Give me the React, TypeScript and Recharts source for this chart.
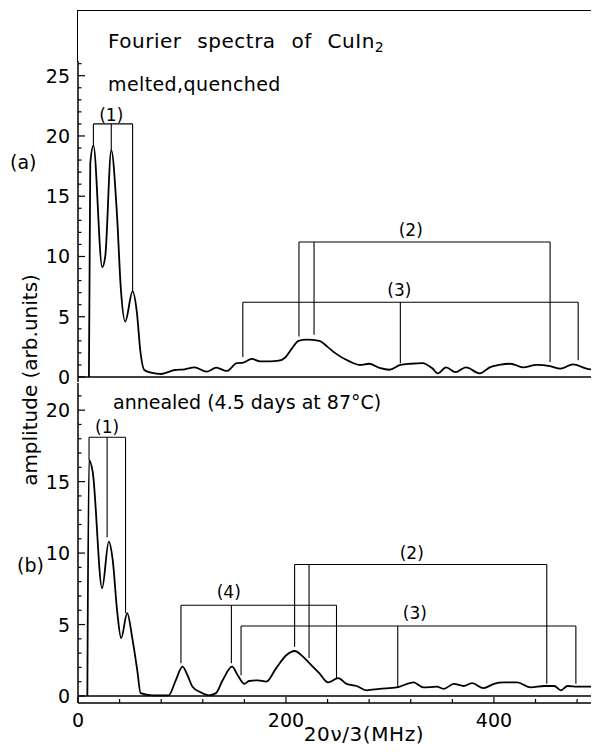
import React from 'react';
import { LineChart, Line, XAxis, YAxis, ReferenceLine, ReferenceDot } from 'recharts';

const FONT = '"DejaVu Sans", "Liberation Sans", sans-serif';

// Panel (a): melted, quenched
const freqA = [10.5, 11.8, 14.8, 23.3, 26.2, 32, 37.4, 41.3, 45.4, 52.5, 56.7, 59.9, 63.8, 70.5, 80, 93, 102.5, 112, 123.7, 133, 143, 152.7, 159, 167, 175, 185, 193, 199, 206, 212, 220, 232, 240, 247, 261, 271.5, 280, 290, 299.5, 310, 320, 331, 341, 346, 354, 363, 373, 386.5, 396, 405, 416, 428, 441, 454, 464, 476, 489, 502];
const ampA = [0, 17.7, 19.2, 9.1, 10, 18.8, 13.6, 7.2, 4.6, 7.1, 5.3, 2.2, 0.58, 0.36, 0.25, 0.58, 0.64, 0.8, 0.44, 0.77, 0.5, 1.15, 1.2, 1.5, 1.3, 1.3, 1.35, 1.6, 2.4, 3.0, 3.1, 3.0, 2.5, 2.0, 1.3, 1.0, 1.1, 0.75, 0.6, 1.0, 1.1, 1.15, 0.7, 0.3, 0.8, 0.4, 0.8, 0.3, 0.8, 1.0, 1.1, 0.8, 1.0, 0.9, 0.7, 1.05, 0.7, 0.55];

// Panel (b): annealed
const freqB = [9, 10.6, 14.1, 23.2, 29.6, 33.4, 37.7, 41.5, 47.3, 52.2, 57, 60.2, 71.5, 87.2, 94, 100.5, 105.3, 110.1, 118.2, 125.9, 132.7, 139.1, 148.1, 153.6, 160, 164.5, 173, 181, 190.6, 200.3, 208.3, 216.4, 222.5, 232, 240.6, 250.2, 258.3, 268, 277.6, 290, 306.6, 322.7, 332.4, 345, 351.7, 361.4, 371, 379, 390, 400, 409.7, 422.5, 435.4, 448.3, 458, 464.4, 470.8, 480.5, 502];
const ampB = [0, 16.5, 15.7, 7.55, 10.8, 9.5, 5.9, 4.05, 5.8, 4.05, 1.8, 0.2, 0.05, 0.05, 1.1, 2.05, 1.45, 0.65, 0.25, 0.05, 0.2, 1.1, 2.05, 1.45, 0.85, 1.05, 1.1, 1.0, 1.95, 2.85, 3.15, 2.75, 2.3, 1.6, 0.95, 1.25, 0.85, 0.7, 0.4, 0.5, 0.6, 0.95, 0.6, 0.65, 0.5, 0.85, 0.7, 0.9, 0.55, 0.85, 0.95, 0.95, 0.6, 0.7, 0.7, 0.4, 0.7, 0.65, 0.65];

// Axis ticks
const xTicks = [0, 40, 80, 120, 160, 200, 240, 280, 320, 360, 400, 440, 480];
const xLabelTicks = [0, 200, 400];
const xDomain: [number, number] = [0, 502];
const yTicksA = Array.from({ length: 27 }, (_, i) => i);
const yTicksB = Array.from({ length: 22 }, (_, i) => i);
const yDomainA: [number, number] = [-0.415, 26.22];
const yDomainB: [number, number] = [-0.49, 21.9];

type Bracket = { name: string; top: number; legs: number[]; ends: number[]; labelX: number; labelY: number };

const bracketsA: Bracket[] = [
  { name: '(1)', top: 21.0, legs: [14.8, 32, 52.5], ends: [19.2, 18.8, 7.1], labelX: 32, labelY: 21.75 },
  { name: '(2)', top: 11.2, legs: [212.5, 227, 454], ends: [3.35, 3.5, 1.25], labelX: 320, labelY: 12.2 },
  { name: '(3)', top: 6.2, legs: [158.5, 310, 481], ends: [1.65, 1.15, 1.4], labelX: 309, labelY: 7.2 },
];

const bracketsB: Bracket[] = [
  { name: '(1)', top: 18.1, legs: [10.6, 28, 45.7], ends: [16.5, 11.1, 5.8], labelX: 28, labelY: 18.8 },
  { name: '(4)', top: 6.35, legs: [99, 147.5, 248.6], ends: [2.3, 2.3, 1.25], labelX: 145, labelY: 7.3 },
  { name: '(2)', top: 9.2, legs: [208.3, 222.2, 450.8], ends: [3.45, 2.65, 0.85], labelX: 321, labelY: 10.0 },
  { name: '(3)', top: 4.9, legs: [156.8, 307.5, 478.8], ends: [1.45, 0.65, 0.85], labelX: 324, labelY: 5.8 },
];

const makeXTick = (dir: number, showLabel: boolean) => (props: any) => {
  const { x, y, payload } = props;
  const major = xLabelTicks.includes(payload.value);
  const len = major ? 6 : 4;
  return (
    <g>
      <line x1={x} x2={x} y1={y} y2={y - dir * len} stroke="#000" strokeWidth={1.2} />
      {showLabel && major && (
        <text x={x} y={y + 24} textAnchor="middle" fontSize={19} fontFamily={FONT} fill="#000">
          {payload.value}
        </text>
      )}
    </g>
  );
};

const leftYTick = (props: any) => {
  const { x, y, payload } = props;
  const major = payload.value % 5 === 0;
  return (
    <g>
      <line x1={x} x2={x + (major ? 7 : 3.5)} y1={y} y2={y} stroke="#000" strokeWidth={1.2} />
      {major && (
        <text x={x - 8} y={y + 7} textAnchor="end" fontSize={19} fontFamily={FONT} fill="#000">
          {payload.value}
        </text>
      )}
    </g>
  );
};

const rightYTick = (props: any) => {
  const { x, y, payload } = props;
  const major = payload.value % 5 === 0;
  return <line x1={x} x2={x - (major ? 7 : 3.5)} y1={y} y2={y} stroke="#000" strokeWidth={1.2} />;
};

function renderBrackets(brackets: Bracket[]) {
  const out: React.ReactNode[] = [];
  brackets.forEach((b, i) => {
    out.push(
      <ReferenceLine
        key={`h${i}`}
        segment={[{ x: b.legs[0], y: b.top }, { x: b.legs[b.legs.length - 1], y: b.top }]}
        stroke="#000"
        strokeWidth={1.1}
        ifOverflow="visible"
      />
    );
    b.legs.forEach((lx, j) =>
      out.push(
        <ReferenceLine
          key={`v${i}-${j}`}
          segment={[{ x: lx, y: b.top }, { x: lx, y: b.ends[j] }]}
          stroke="#000"
          strokeWidth={1.1}
          ifOverflow="visible"
        />
      )
    );
    out.push(
      <ReferenceDot
        key={`l${i}`}
        x={b.labelX}
        y={b.labelY}
        r={0}
        fill="none"
        stroke="none"
        ifOverflow="visible"
        label={{ value: b.name, position: 'center', fontSize: 17, fontFamily: FONT, fill: '#000' }}
      />
    );
  });
  return out;
}

function Panel(props: {
  freq: number[];
  amp: number[];
  brackets: Bracket[];
  yTicks: number[];
  yDomain: [number, number];
  height: number;
  marginTop: number;
  marginBottom: number;
  bottomAxisHeight: number;
  showXLabels: boolean;
  topAxisLine: boolean;
}) {
  const data = props.freq.map((f, i) => ({ f, a: props.amp[i] }));
  const axisStroke = { stroke: '#000', strokeWidth: 1.5 };
  return (
    <LineChart
      width={593}
      height={props.height}
      data={data}
      margin={{ top: props.marginTop, right: 0, bottom: props.marginBottom, left: 0 }}
    >
      <XAxis
        dataKey="f"
        type="number"
        domain={xDomain}
        allowDataOverflow
        ticks={xTicks}
        interval={0}
        height={props.bottomAxisHeight}
        tickSize={0}
        tickMargin={0}
        tickLine={false}
        axisLine={axisStroke}
        tick={makeXTick(1, props.showXLabels)}
      />
      <XAxis
        xAxisId="t"
        orientation="top"
        type="number"
        domain={xDomain}
        allowDataOverflow
        ticks={xTicks}
        interval={0}
        height={0}
        tickSize={0}
        tickMargin={0}
        tickLine={false}
        axisLine={props.topAxisLine ? axisStroke : false}
        tick={makeXTick(-1, false)}
      />
      <YAxis
        type="number"
        domain={props.yDomain}
        allowDataOverflow
        ticks={props.yTicks}
        interval={0}
        width={70}
        tickSize={0}
        tickMargin={0}
        tickLine={false}
        axisLine={axisStroke}
        tick={leftYTick}
      />
      <YAxis
        yAxisId="r"
        orientation="right"
        type="number"
        domain={props.yDomain}
        allowDataOverflow
        ticks={props.yTicks}
        interval={0}
        width={1}
        tickSize={0}
        tickMargin={0}
        tickLine={false}
        axisLine={axisStroke}
        tick={rightYTick}
      />
      <ReferenceLine y={0} stroke="#000" strokeWidth={1.3} />
      {renderBrackets(props.brackets)}
      <Line
        type="monotone"
        dataKey="a"
        stroke="#000"
        strokeWidth={1.8}
        dot={false}
        activeDot={false}
        isAnimationActive={false}
      />
    </LineChart>
  );
}

const textBase: React.CSSProperties = {
  position: 'absolute',
  whiteSpace: 'nowrap',
  lineHeight: 1,
  fontFamily: FONT,
  color: '#000',
  transform: 'translateY(-50%)',
};

export default function App() {
  return (
    <div
      style={{
        position: 'relative',
        width: 591,
        height: 739,
        overflowX: 'clip',
        overflowY: 'visible',
        background: '#fff',
        fontFamily: FONT,
      }}
    >
      <div
        style={{
          position: 'absolute',
          left: 69,
          top: 2,
          width: 522,
          height: 52,
          borderTop: '1.5px solid #000',
          borderLeft: '1.5px solid #000',
          boxSizing: 'border-box',
        }}
      />
      <div style={{ ...textBase, left: 100, top: 34, fontSize: 20, letterSpacing: 0.5, wordSpacing: 9 }}>
        Fourier spectra of CuIn<sub style={{ fontSize: 14, verticalAlign: -4 }}>2</sub>
      </div>

      <div style={{ position: 'absolute', left: 0, top: 43 }}>
        <Panel
          freq={freqA}
          amp={ampA}
          brackets={bracketsA}
          yTicks={yTicksA}
          yDomain={yDomainA}
          height={341}
          marginTop={10}
          marginBottom={10}
          bottomAxisHeight={0}
          showXLabels={false}
          topAxisLine={true}
        />
      </div>
      <div style={{ position: 'absolute', left: 0, top: 375 }}>
        <Panel
          freq={freqB}
          amp={ampB}
          brackets={bracketsB}
          yTicks={yTicksB}
          yDomain={yDomainB}
          height={350}
          marginTop={0}
          marginBottom={0}
          bottomAxisHeight={30}
          showXLabels={true}
          topAxisLine={false}
        />
      </div>

      <div style={{ ...textBase, left: 100, top: 76, fontSize: 19, letterSpacing: 0.4 }}>melted,quenched</div>
      <div style={{ ...textBase, left: 105, top: 394, fontSize: 19 }}>annealed (4.5 days at 87°C)</div>
      <div style={{ ...textBase, left: 2, top: 154, fontSize: 19 }}>(a)</div>
      <div style={{ ...textBase, left: 9, top: 557, fontSize: 19 }}>(b)</div>
      <div
        style={{
          ...textBase,
          left: 22,
          top: 372,
          fontSize: 20,
          transform: 'translate(-50%, -50%) rotate(-90deg)',
        }}
      >
        amplitude (arb.units)
      </div>
      <div
        style={{
          ...textBase,
          left: 356,
          top: 726,
          fontSize: 20,
          letterSpacing: 0.6,
          transform: 'translate(-50%, -50%)',
        }}
      >
        20ν/3(MHz)
      </div>
    </div>
  );
}
